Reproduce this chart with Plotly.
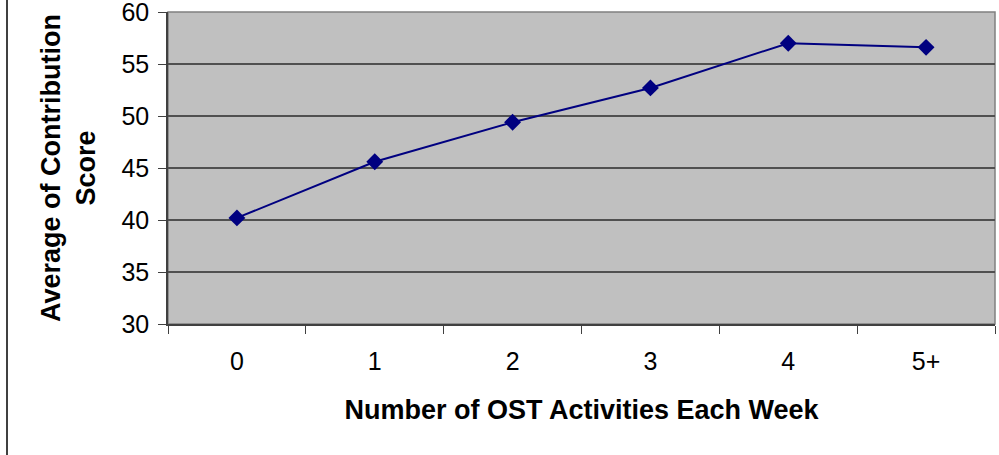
import plotly.graph_objects as go

categories = ["0", "1", "2", "3", "4", "5+"]
scores = [40.2, 45.6, 49.4, 52.7, 57.0, 56.6]
y_ticks = [30, 35, 40, 45, 50, 55, 60]

navy = "#000080"
font_family = "Liberation Sans, Arial, sans-serif"

fig = go.Figure()
fig.add_trace(go.Scatter(
    x=categories, y=scores, mode="lines+markers",
    line=dict(color=navy, width=2),
    marker=dict(symbol="diamond", size=13, color=navy),
    showlegend=False, hoverinfo="x+y", cliponaxis=False,
))

fig.update_layout(
    width=999, height=455,
    margin=dict(l=168, r=4, t=12, b=131, autoexpand=False),
    paper_bgcolor="white",
    plot_bgcolor="#C0C0C0",
    font=dict(family=font_family, color="black", size=25),
    xaxis=dict(
        type="category", range=[-0.5, 5.5], tickson="boundaries",
        ticks="outside", ticklen=8, tickcolor="#404040", tickwidth=1,
        showgrid=False, showline=True, linecolor="#404040", linewidth=1.5,
        tickfont=dict(size=25), ticklabelstandoff=14, automargin=False,
        title=dict(text="<b>Number of OST Activities Each Week</b>", font=dict(size=27), standoff=26),
    ),
    yaxis=dict(
        range=[30, 60], tickvals=y_ticks,
        ticks="outside", ticklen=8, tickcolor="#404040", tickwidth=1,
        showgrid=True, gridcolor="#505050", gridwidth=1.5,
        showline=True, linecolor="#404040", linewidth=1.5,
        zeroline=False, tickfont=dict(size=25), ticklabeloverflow="allow",
        ticklabelstandoff=4, automargin=False,
        title=dict(text="<b>Average of Contribution<br>Score</b>", font=dict(size=27), standoff=18),
    ),
    shapes=[
        dict(type="rect", xref="paper", yref="paper", x0=0, x1=1, y0=0, y1=1,
             line=dict(color="#808080", width=1.5), layer="below"),
        dict(type="line", xref="paper", yref="paper",
             x0=(7 - 168) / 827, x1=(7 - 168) / 827, y0=-131 / 312, y1=12 / 312 + 1,
             line=dict(color="black", width=1.5)),
    ],
)

fig.write_html("out.html", config={"displayModeBar": False},
               post_script="document.body.style.margin='0';")
